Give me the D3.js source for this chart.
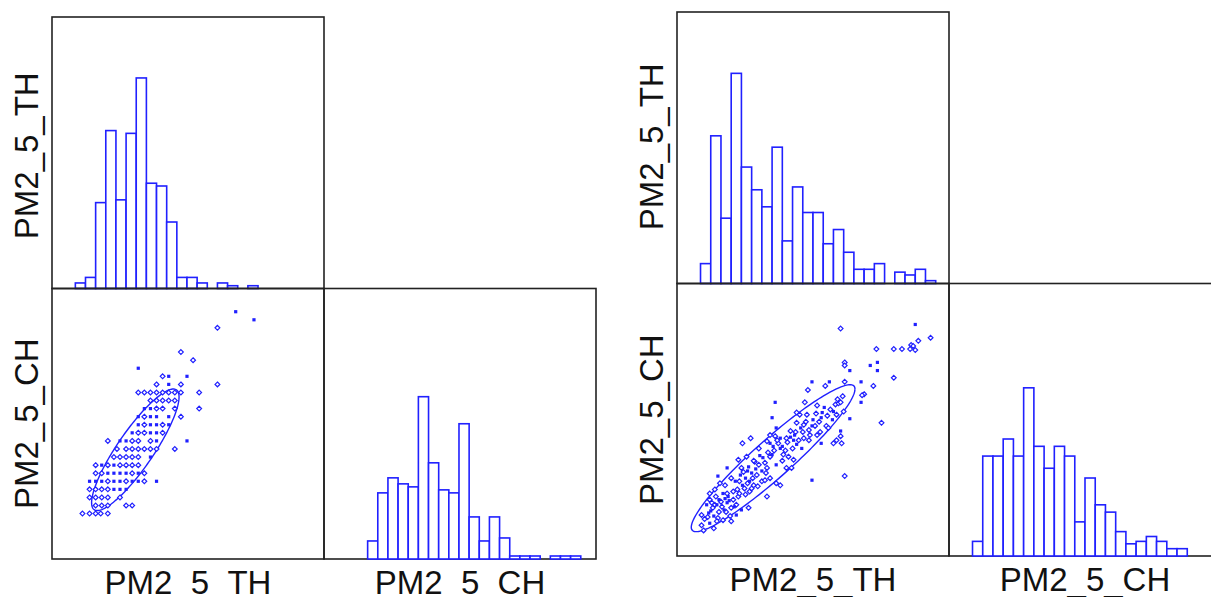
<!DOCTYPE html>
<html>
<head>
<meta charset="utf-8">
<script src="https://cdn.jsdelivr.net/npm/d3@7"></script>
<style>
  html, body { margin: 0; background: #fff; }
  svg { display: block; }
</style>
</head>
<body>
<svg id="chart" width="1211" height="597"></svg>
<script>
// ---------------------------------------------------------------
// Variables shown in both scatterplot matrices
const variables = ["PM2_5_TH", "PM2_5_CH"];

// ---- Left matrix ----------------------------------------------
const leftBinWidth = 5;
const leftThBinStart = 11;
const leftThCounts = [2, 4, 31, 57, 32, 56, 76, 38, 37, 24, 4, 4, 2, 0, 2, 1, 0, 1];
const leftChBinStart = 8;
const leftChCounts = [0, 0, 0, 6, 22, 27, 25, 24, 54, 32, 23, 22, 45, 14, 6, 14, 7, 1, 1, 1, 0, 1, 1, 1];
// [PM2_5_TH, PM2_5_CH, marker]  f = filled square, d = open diamond
const leftPoints = [
  [90,124,"f"],[99,120,"f"],[81,116,"d"],[63,104,"d"],[69,100,"d"],[42,96,"f"],
  [54,92,"d"],[57,92,"f"],[66,92,"f"],
  [51,88,"d"],[57,88,"f"],[63,88,"d"],[81,88,"d"],
  [42,84,"d"],[45,84,"d"],[48,84,"d"],[51,84,"d"],[54,84,"d"],[57,84,"d"],[60,84,"d"],[63,84,"d"],[72,84,"d"],
  [48,80,"d"],[51,80,"d"],[54,80,"d"],[57,80,"d"],[60,80,"d"],
  [45,76,"f"],[48,76,"f"],[51,76,"d"],[54,76,"d"],[60,76,"d"],[72,76,"d"],
  [42,72,"f"],[45,72,"d"],[48,72,"f"],[51,72,"f"],[57,72,"f"],[63,72,"d"],
  [42,68,"f"],[45,68,"d"],[48,68,"f"],[51,68,"f"],[54,68,"d"],[57,68,"f"],
  [39,64,"f"],[42,64,"d"],[45,64,"d"],[48,64,"f"],[51,64,"f"],[54,64,"d"],
  [27,60,"d"],[33,60,"f"],[36,60,"f"],[39,60,"d"],[42,60,"d"],[48,60,"d"],[51,60,"f"],[66,60,"f"],
  [31.5,56,"d"],[36,56,"d"],[39,56,"d"],[42,56,"d"],[45,56,"d"],[48,56,"d"],[51,56,"d"],[60,56,"d"],
  [30,52,"d"],[33,52,"d"],[36,52,"d"],[39,52,"d"],[42,52,"d"],[48,52,"f"],
  [21,48,"d"],[24,48,"f"],[27,48,"d"],[30,48,"f"],[33,48,"d"],[36,48,"d"],[39,48,"d"],[42,48,"d"],
  [21,44,"d"],[24,44,"d"],[27,44,"f"],[30,44,"f"],[33,44,"f"],[36,44,"f"],[39,44,"d"],[42,44,"f"],[45,44,"d"],
  [18,40,"f"],[21,40,"f"],[24,40,"f"],[27,40,"d"],[30,40,"f"],[33,40,"f"],[36,40,"d"],[39,40,"f"],[42,40,"f"],[45,40,"d"],[51,40,"f"],
  [18,36,"d"],[21,36,"d"],[24,36,"d"],[27,36,"d"],[30,36,"f"],[33,36,"f"],[36,36,"f"],
  [18,32,"d"],[21,32,"d"],[24,32,"d"],[27,32,"d"],[33,32,"d"],
  [21,28,"d"],[24,28,"d"],[27,28,"d"],[36,28,"d"],[39,28,"d"],
  [14.5,24,"d"],[18,24,"d"],[21,24,"d"],[23.5,24,"d"],[27,24,"d"]
];
// 95% density ellipse: means, standard deviations, correlation
const leftEllipse = { mx: 40.55, sx: 8.8, my: 55.6, sy: 12.3, r: 0.87 };

// ---- Right matrix ---------------------------------------------
const rightBinWidth = 10;
const rightThBinStart = 20;
const rightThCounts = [7, 52, 23, 74, 41, 33, 27, 48, 15, 34, 25, 25, 14, 19, 11, 5, 5, 7, 0, 4, 3, 5, 1];
const rightChBinStart = 10;
const rightChCounts = [0, 6, 41, 41, 48, 41, 69, 45, 36, 45, 41, 14, 32, 21, 18, 10, 5, 6, 8, 6, 3, 3, 0, 0, 0];
const rightPoints = [
  [157,219,"d"],[230,223,"f"],[245,210,"d"],[226,203,"d"],[228,202,"d"],[233,207,"d"],[230,198,"d"],
  [192,199,"d"],[209,199,"d"],[217,199,"d"],[225,199,"d"],
  [161,186,"d"],[161,183,"d"],[186,183,"f"],[193,186,"f"],[166,178,"f"],[193,178,"f"],[209,171,"d"],
  [129,167,"f"],[142,163,"d"],[146,167,"f"],[161,167,"d"],[177,167,"f"],[189,163,"d"],
  [125,159,"d"],[180,155,"d"],[178,154,"d"],[177,147,"f"],
  [93,147,"f"],[122,147,"d"],[134,144,"d"],[141,142,"f"],[152,145,"d"],[155,146,"d"],[157,147,"d"],
  [90,132,"f"],[114,137,"d"],[117,135,"d"],[124,135,"d"],[138,132,"f"],[149,130,"f"],[153,135,"d"],[160,138,"d"],[166,131,"f"],
  [143,124,"d"],[145,122,"d"],[157,119,"f"],[157,114,"d"],[153,110,"d"],[150,107,"d"],[158,107,"d"],[197,127,"d"],
  [94,122,"f"],[114,127,"d"],[121,125,"d"],[129,124,"f"],[132,124,"d"],[127,115,"d"],[134,115,"d"],[121,112,"d"],[138,107,"f"],
  [108,119,"d"],[112,115,"f"],[111,110,"f"],[114,106,"f"],[119,102,"f"],[104,112,"d"],
  [61,107,"d"],[69,112,"d"],[77,102,"d"],[85,109,"d"],[88,107,"f"],[91,104,"f"],[96,107,"d"],[98,102,"f"],
  [101,96,"d"],[106,94,"d"],[111,91,"d"],[88,115,"d"],[93,114,"d"],[98,112,"f"],
  [57,91,"d"],[65,94,"d"],[73,89,"d"],[81,93,"f"],[88,94,"d"],[94,86,"f"],[104,83,"d"],[109,83,"d"],
  [46,83,"f"],[60,83,"d"],[67,84,"f"],[70,78,"f"],[75,76,"d"],[80,80,"f"],[85,83,"d"],[88,73,"d"],
  [37,75,"f"],[39,68,"d"],[44,66,"d"],[50,73,"d"],[54,70,"f"],[59,76,"f"],[64,73,"f"],[68,70,"f"],
  [72,66,"d"],[80,70,"d"],[83,71,"d"],[94,68,"d"],[98,66,"d"],[129,71,"f"],[161,75,"d"],
  [29,58,"d"],[34,62,"d"],[42,58,"f"],[47,55,"f"],[52,60,"d"],[57,55,"d"],[64,57,"d"],[68,60,"d"],[85,55,"d"],
  [26,47,"f"],[31,49,"d"],[36,47,"f"],[41,45,"d"],[46,49,"f"],[50,44,"d"],[55,47,"d"],[60,42,"f"],[67,44,"d"],
  [21,37,"d"],[28,39,"f"],[33,36,"f"],[37,34,"d"],[42,32,"d"],[49,36,"d"],[55,37,"f"],[50,31,"d"],
  [21,27,"d"],[23,22,"d"],[29,29,"f"],[33,24,"d"],[36,31,"d"],
  [38,52,"f"],[40,50,"d"],[44,53,"f"],[46,58,"d"],[48,51,"f"],[35,55,"d"],[32,44,"d"],[30,41,"f"],
  [27,35,"d"],[24,33,"d"],[38,40,"d"],[43,42,"f"],[52,52,"d"],[56,62,"d"],[61,66,"f"],[63,63,"d"],
  [66,68,"d"],[58,70,"d"],[62,79,"d"],[66,80,"f"],[71,73,"d"],[74,82,"f"],[77,86,"d"],[72,90,"d"],
  [78,95,"f"],[83,88,"d"],[86,98,"d"],[90,96,"f"],[92,100,"d"],[95,110,"d"],[100,104,"f"],[103,100,"d"],
  [105,108,"d"],[108,113,"f"],[110,102,"d"],[113,118,"d"],[116,110,"d"],[118,122,"f"],[120,118,"d"],
  [123,128,"d"],[126,120,"d"],[130,130,"f"],[133,136,"d"],[136,128,"d"],[139,137,"f"],[144,134,"d"],
  [147,140,"d"],[150,138,"f"],[154,150,"d"],[159,153,"d"],[137,118,"d"],[126,110,"d"],[100,90,"d"],
  [84,78,"d"],[76,65,"d"],[70,63,"d"],[53,45,"f"],[45,40,"d"],[34,47,"d"],[29,52,"d"],[58,58,"d"]
];
const rightEllipse = { mx: 91, sx: 32.7, my: 92.5, sy: 29.3, r: 0.94 };

// ---------------------------------------------------------------
const BLUE = "#2020ff";
const FRAME = "#222";
const FONT = "'Liberation Sans', Arial, sans-serif";
const svg = d3.select("#chart");

function drawMatrix(cfg) {
  const L = cfg.layout;
  const g = svg.append("g");

  const xTh = d3.scaleLinear().domain(cfg.thDomain).range([L.x0, L.x1]);
  const yCh = d3.scaleLinear().domain(cfg.chDomain).range([L.y2, L.y1]);
  const xCh = d3.scaleLinear().domain(cfg.chDomain).range([L.x1, L.x2]);
  const yThHist = d3.scaleLinear().domain([0, cfg.thHistMax]).range([L.y1, L.y0]);
  const yChHist = d3.scaleLinear().domain([0, cfg.chHistMax]).range([L.y2, L.y1]);

  const thBins = cfg.thCounts.map((c, i) => ({
    x0: cfg.thStart + i * cfg.binWidth, x1: cfg.thStart + (i + 1) * cfg.binWidth, c
  })).filter(b => b.c > 0);
  const chBins = cfg.chCounts.map((c, i) => ({
    x0: cfg.chStart + i * cfg.binWidth, x1: cfg.chStart + (i + 1) * cfg.binWidth, c
  }));

  // PM2_5_TH histogram (diagonal, top-left cell)
  g.append("g").selectAll("rect").data(thBins).join("rect")
    .attr("x", d => xTh(d.x0)).attr("width", d => xTh(d.x1) - xTh(d.x0))
    .attr("y", d => yThHist(d.c)).attr("height", d => yThHist(0) - yThHist(d.c))
    .attr("fill", "#fff").attr("stroke", BLUE).attr("stroke-width", 1.6);

  // panel frames
  const frames = [
    [L.x0, L.y0, L.x1, L.y1],
    [L.x0, L.y1, L.x1, L.y2],
    [L.x1, L.y1, L.x2, L.y2]
  ];
  g.append("g").selectAll("rect").data(frames).join("rect")
    .attr("x", d => d[0]).attr("y", d => d[1])
    .attr("width", d => d[2] - d[0]).attr("height", d => d[3] - d[1])
    .attr("fill", "none").attr("stroke", FRAME).attr("stroke-width", 1.6);

  // PM2_5_CH histogram (diagonal, bottom-right cell)
  g.append("g").selectAll("rect").data(chBins).join("rect")
    .attr("x", d => xCh(d.x0)).attr("width", d => xCh(d.x1) - xCh(d.x0))
    .attr("y", d => yChHist(d.c)).attr("height", d => yChHist(0) - yChHist(d.c))
    .attr("fill", "#fff").attr("stroke", BLUE).attr("stroke-width", 1.6);

  // density ellipse
  const e = cfg.ellipse;
  const c = Math.sqrt(-2 * Math.log(1 - 0.95));
  const ts = d3.range(0, 2 * Math.PI + 0.001, Math.PI / 90);
  const ellPts = ts.map(t => [
    e.mx + c * e.sx * Math.cos(t),
    e.my + c * e.sy * (e.r * Math.cos(t) + Math.sqrt(1 - e.r * e.r) * Math.sin(t))
  ]);
  g.append("path").datum(ellPts)
    .attr("d", d3.line().x(d => xTh(d[0])).y(d => yCh(d[1])))
    .attr("fill", "none").attr("stroke", BLUE).attr("stroke-width", 1.4);

  // scatter points
  const pts = g.append("g");
  pts.selectAll("path.d").data(cfg.points.filter(p => p[2] === "d")).join("path")
    .attr("class", "d")
    .attr("transform", p => `translate(${xTh(p[0])},${yCh(p[1])})`)
    .attr("d", "M0,-2.4L2.4,0L0,2.4L-2.4,0Z")
    .attr("fill", "#fff").attr("stroke", BLUE).attr("stroke-width", 1.2);
  pts.selectAll("rect.f").data(cfg.points.filter(p => p[2] === "f")).join("rect")
    .attr("class", "f")
    .attr("x", p => xTh(p[0]) - 1.6).attr("y", p => yCh(p[1]) - 1.6)
    .attr("width", 3.2).attr("height", 3.2)
    .attr("fill", BLUE);

  // variable labels
  const lab = g.append("g").attr("font-family", FONT).attr("font-size", 33)
    .attr("fill", "#111").attr("text-anchor", "middle");
  lab.append("text")
    .attr("transform", `translate(${cfg.yLabelX},${(L.y0 + L.y1) / 2 + cfg.yLabelShift}) rotate(-90)`)
    .text(variables[0]);
  lab.append("text")
    .attr("transform", `translate(${cfg.yLabelX},${(L.y1 + L.y2) / 2}) rotate(-90)`)
    .text(variables[1]);
  lab.append("text").attr("x", (L.x0 + L.x1) / 2).attr("y", cfg.xLabelY).text(variables[0]);
  lab.append("text").attr("x", (L.x1 + L.x2) / 2).attr("y", cfg.xLabelY).text(variables[1]);
}

drawMatrix({
  layout: { x0: 52, x1: 324, x2: 596, y0: 17, y1: 288.5, y2: 559 },
  thDomain: [-0.5, 133.5], chDomain: [1.5, 135.5],
  thHistMax: 98, chHistMax: 90,
  binWidth: leftBinWidth,
  thStart: leftThBinStart, thCounts: leftThCounts,
  chStart: leftChBinStart, chCounts: leftChCounts,
  points: leftPoints, ellipse: leftEllipse,
  yLabelX: 38, yLabelShift: 3, xLabelY: 593.5
});

drawMatrix({
  layout: { x0: 677, x1: 949, x2: 1221, y0: 12, y1: 283.5, y2: 556 },
  thDomain: [-3, 263], chDomain: [-3, 263],
  thHistMax: 95.6, chHistMax: 111.8,
  binWidth: rightBinWidth,
  thStart: rightThBinStart, thCounts: rightThCounts,
  chStart: rightChBinStart, chCounts: rightChCounts,
  points: rightPoints, ellipse: rightEllipse,
  yLabelX: 663, yLabelShift: -1, xLabelY: 590.5
});
</script>
</body>
</html>
